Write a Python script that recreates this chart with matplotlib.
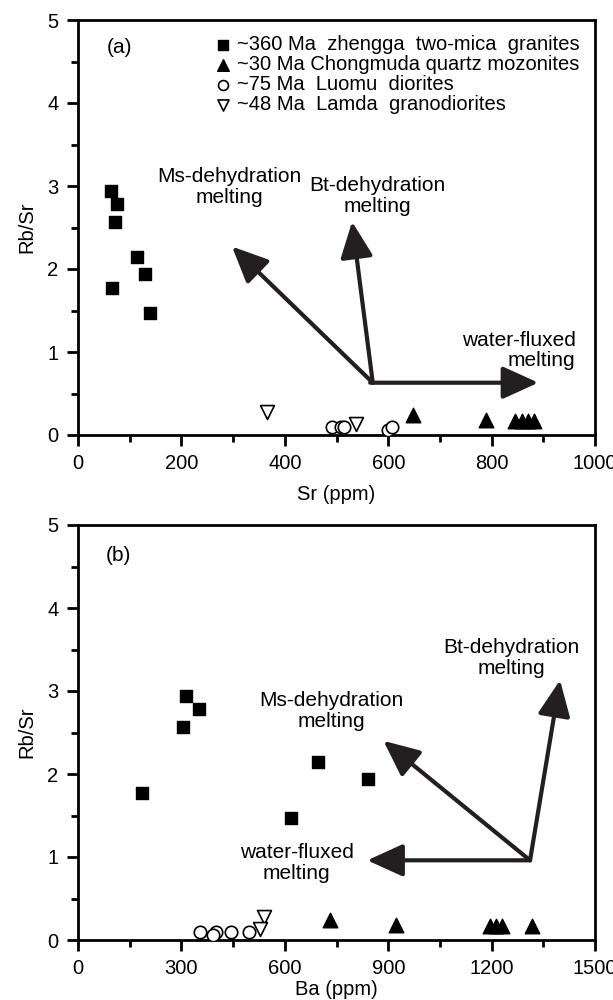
import matplotlib
matplotlib.use("Agg")
import matplotlib.pyplot as plt
from matplotlib.ticker import MultipleLocator

plt.rcParams['font.family'] = ['Liberation Sans', 'DejaVu Sans']
plt.rcParams['font.size'] = 14.5

# Rb/Sr values of the samples (same samples in both panels)
granite_rbsr = [2.94, 2.78, 2.57, 2.14, 1.94, 1.77, 1.47]
granite_sr = [64, 75, 71, 114, 130, 66, 139]
granite_ba = [315, 350, 305, 695, 840, 186, 618]

monzo_rbsr = [0.24, 0.18, 0.17, 0.17, 0.17, 0.17]
monzo_sr = [647, 789, 845, 859, 870, 882]
monzo_ba = [731, 923, 1194, 1212, 1229, 1317]

diorite_rbsr = [0.10, 0.10, 0.06, 0.10, 0.10]
diorite_sr = [492, 508, 599, 608, 515]
diorite_ba = [355, 400, 393, 444, 495]

lamda_rbsr = [0.28, 0.13]
lamda_sr = [366, 537]
lamda_ba = [539, 527]

labels = ["~360 Ma  zhengga  two-mica  granites",
          "~30 Ma Chongmuda quartz mozonites",
          "~75 Ma  Luomu  diorites",
          "~48 Ma  Lamda  granodiorites"]

ink = '#231f20'
note_size = 15

fig = plt.figure(figsize=(6.13, 10), dpi=100)
ax1 = fig.add_axes([0.127, 0.565, 0.844, 0.415])
ax2 = fig.add_axes([0.127, 0.06, 0.844, 0.415])


def draw_points(ax, xs_list):
    gx, mx, dx, lx = xs_list
    ax.scatter(gx, granite_rbsr, marker='s', s=80, color='black', zorder=3, label=labels[0])
    ax.scatter(mx, monzo_rbsr, marker='^', s=110, color='black', zorder=3, label=labels[1])
    ax.scatter(dx, diorite_rbsr, marker='o', s=80, facecolor='white', edgecolor='black',
               linewidth=1.2, zorder=3, label=labels[2])
    ax.scatter(lx, lamda_rbsr, marker='v', s=100, facecolor='white', edgecolor='black',
               linewidth=1.2, zorder=3, label=labels[3])


def arrow(ax, start, end):
    ax.annotate('', xy=end, xytext=start,
                arrowprops=dict(arrowstyle='-|>,head_length=1.1,head_width=0.5',
                                lw=3, color=ink, shrinkA=0, shrinkB=0,
                                mutation_scale=20))


def style(ax, xmax, xmajor, xminor, xlabel, pad):
    ax.set_xlim(0, xmax)
    ax.set_ylim(0, 5)
    ax.xaxis.set_major_locator(MultipleLocator(xmajor))
    ax.xaxis.set_minor_locator(MultipleLocator(xminor))
    ax.yaxis.set_major_locator(MultipleLocator(1))
    ax.yaxis.set_minor_locator(MultipleLocator(0.5))
    ax.tick_params(which='major', direction='out', length=8, width=2, pad=6)
    ax.tick_params(which='minor', direction='out', length=5, width=2)
    for sp in ax.spines.values():
        sp.set_linewidth(2)
    ax.set_xlabel(xlabel, labelpad=pad)
    ax.set_ylabel('Rb/Sr', labelpad=8)


# panel (a): Rb/Sr vs Sr
draw_points(ax1, [granite_sr, monzo_sr, diorite_sr, lamda_sr])
style(ax1, 1000, 200, 100, 'Sr (ppm)', 8)
arrow(ax1, (565, 0.63), (890, 0.63))
arrow(ax1, (570, 0.63), (530, 2.57))
arrow(ax1, (570, 0.63), (298, 2.27))
ax1.text(578, 2.88, 'Bt-dehydration\nmelting', ha='center', va='center',
         linespacing=1.1, fontsize=note_size)
ax1.text(292, 2.99, 'Ms-dehydration\nmelting', ha='center', va='center',
         linespacing=1.1, fontsize=note_size)
ax1.text(962, 1.02, 'water-fluxed\nmelting', ha='right', va='center',
         linespacing=1.1, fontsize=note_size)
ax1.text(55, 4.67, '(a)', ha='left', va='center', fontsize=note_size)
ax1.legend(loc='upper right', bbox_to_anchor=(1.0, 1.0), frameon=False,
           handletextpad=0.05, labelspacing=0.05, borderaxespad=0.35,
           markerscale=0.8, handlelength=1.3, fontsize=14.5)

# panel (b): Rb/Sr vs Ba
draw_points(ax2, [granite_ba, monzo_ba, diorite_ba, lamda_ba])
style(ax2, 1500, 300, 150, 'Ba (ppm)', 1)
arrow(ax2, (1311, 0.96), (1398, 3.13))
arrow(ax2, (1311, 0.96), (886, 2.40))
arrow(ax2, (1311, 0.96), (839, 0.96))
ax2.text(1258, 3.40, 'Bt-dehydration\nmelting', ha='center', va='center',
         linespacing=1.1, fontsize=note_size)
ax2.text(735, 2.76, 'Ms-dehydration\nmelting', ha='center', va='center',
         linespacing=1.1, fontsize=note_size)
ax2.text(635, 0.93, 'water-fluxed\nmelting', ha='center', va='center',
         linespacing=1.1, fontsize=note_size)
ax2.text(80, 4.63, '(b)', ha='left', va='center', fontsize=note_size)

fig.savefig('out.png', dpi=100)
